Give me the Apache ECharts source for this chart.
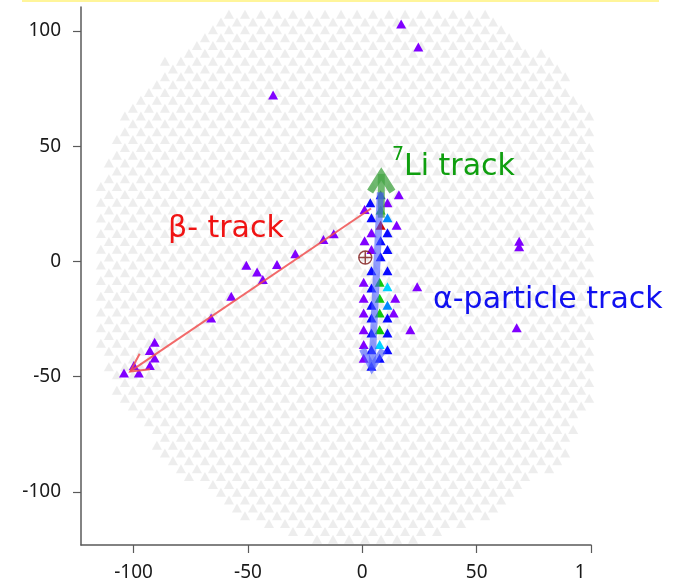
<!DOCTYPE html>
<html>
<head>
<meta charset="utf-8">
<script src="https://cdn.jsdelivr.net/npm/echarts@6.0.0/dist/echarts.min.js"></script>
<style>
html, body { margin: 0; padding: 0; background: #fff; }
#main { width: 685px; height: 588px; }
</style>
</head>
<body>
<div id="main"></div>
<script>
var dom = document.getElementById('main');
var myChart = echarts.init(dom, null, { renderer: 'canvas' });

// axis ticks
var xTicks = [-100, -50, 0, 50, 100];
var yTicks = [-100, -50, 0, 50, 100];

// detector outline: [y, x left, x right]
var outlineRows = [
    [108, -59, 60], [99, -67, 66], [94, -75, 74], [87, -87, 87], [82, -90, 89],
    [76, -94, 91], [70, -98, 93], [65, -104, 102], [40, -114, 102], [0, -117, 102],
    [-40, -114, 102], [-58, -107, 102], [-75, -94, 91], [-86, -87, 89], [-97, -71, 72],
    [-106, -59, 62], [-115, -44, 45], [-121, -19, 24]
];
// pad lattice: pitch in x, pitch in y, x of first pad in even / odd rows, y of row 0
var padPitch = [7, 3.4];
var padPhase = [1.2, 4.7];
var padRow0 = 22.3;

// hits, grouped by colour
var hitsPurple = [
    [17, 103], [24.5, 93], [-39, 72.2],
    [16, 29], [11, 25.5], [1, 22.5], [15, 15.7], [4, 12.5], [1, 9], [4, 5.2],
    [0.6, -9], [24, -11], [0.6, -16], [14.4, -16], [0.6, -22.3], [13.7, -22.3],
    [0.6, -29.6], [21, -29.6], [0.6, -36], [0.6, -42],
    [68.6, 8.8], [68.6, 6.4], [67.5, -28.8],
    [-12.5, 12], [-17, 9.5], [-29.3, 3.3], [-37.3, -1.3], [-50.7, -1.6], [-46, -4.6],
    [-43.5, -7.8], [-57.3, -15.1], [-66.1, -24.5], [-90.8, -35], [-92.9, -38.6],
    [-90.8, -41.9], [-99.9, -45.1], [-92.9, -45.1], [-104.2, -48.4], [-97.7, -48.4]
];
var hitsBlue = [
    [8, 29], [3.5, 25.5], [4, 19], [11, 12.5], [8, 9], [11, 5.2], [8, 2],
    [4, -4], [11, -4], [4, -11.5], [4, -19], [4, -24.5], [11, -24.5], [4, -31],
    [11, -31], [4, -38.3], [11, -38.3], [7.6, -42], [4, -45.5]
];
var hitsAzure = [[11, 19], [11, -19]];
var hitsCyan = [[11, -11], [7.6, -36]];
var hitsGreen = [[8, 22.3], [7.6, -9], [7.6, -16], [7.6, -22.3], [7.6, -29.6]];
var hitsRed = [[8, 15.7]];
var vertexPoint = [[1.3, 1.7]];

// tracks: start, end
var trackBeta = [[3.8, 23], [-101.5, -47.7]];
var trackLi = [[8.3, 19], [8.3, 38]];
var trackAlpha = [[7.9, 30], [4.2, -46]];

function rowSpan(y) {
    for (var i = 0; i < outlineRows.length - 1; i++) {
        var a = outlineRows[i], b = outlineRows[i + 1];
        if (y <= a[0] && y >= b[0]) {
            var t = (a[0] - y) / (a[0] - b[0]);
            return [a[1] + t * (b[1] - a[1]), a[2] + t * (b[2] - a[2])];
        }
    }
    return null;
}

var pads = [];
for (var k = -26; k <= 42; k++) {
    var y = padRow0 - k * padPitch[1];
    var span = rowSpan(y);
    if (!span) continue;
    var x0 = padPhase[Math.abs(k) % 2];
    for (var j = -20; j <= 20; j++) {
        var x = x0 + j * padPitch[0];
        if (x >= span[0] && x <= span[1]) pads.push([x, y]);
    }
}

var arrowStyles = [
    { color: 'rgba(240,80,80,0.85)', width: 2, head: 20, spread: 0.48 },
    { color: 'rgba(70,165,70,0.78)', width: 7, head: 21, spread: 0.56 },
    { color: 'rgba(70,90,255,0.6)', width: 7, head: 21, spread: 0.52 }
];
var arrowData = [trackBeta, trackLi, trackAlpha].map(function (t) {
    return [t[0][0], t[0][1], t[1][0], t[1][1]];
});

function hitSeries(name, data, color) {
    return {
        name: name,
        type: 'scatter',
        symbol: 'triangle',
        symbolSize: [10, 9],
        z: 3,
        silent: true,
        itemStyle: { color: color, opacity: 1 },
        data: data
    };
}

var axisCommon = {
    axisLine: { show: true, onZero: false, lineStyle: { color: '#5a5a5a', width: 1.5 } },
    splitLine: { show: false },
    axisTick: { show: true, length: 8, lineStyle: { color: '#5a5a5a', width: 1.2 } },
    axisLabel: { color: '#1a1a1a', fontSize: 19, fontFamily: 'Noto Sans' }
};

var option = {
    animation: false,
    backgroundColor: '#fff',
    grid: { left: 81, top: 7, right: 94, bottom: 43, outerBoundsMode: 'none' },
    xAxis: {
        type: 'value',
        min: -123,
        max: 100,
        axisLine: axisCommon.axisLine,
        splitLine: axisCommon.splitLine,
        axisTick: Object.assign({ customValues: xTicks }, axisCommon.axisTick),
        axisLabel: Object.assign({ customValues: xTicks, margin: 18 }, axisCommon.axisLabel)
    },
    yAxis: {
        type: 'value',
        min: -123,
        max: 110.4,
        axisLine: axisCommon.axisLine,
        splitLine: axisCommon.splitLine,
        axisTick: Object.assign({ customValues: yTicks }, axisCommon.axisTick),
        axisLabel: Object.assign({ customValues: yTicks, margin: 20 }, axisCommon.axisLabel)
    },
    series: [
        {
            name: 'pads',
            type: 'scatter',
            symbol: 'triangle',
            symbolSize: [10, 9],
            z: 1,
            silent: true,
            itemStyle: { color: '#e9e9e9' },
            data: pads
        },
        hitSeries('purple', hitsPurple, '#8000ff'),
        hitSeries('blue', hitsBlue, '#0a0aff'),
        hitSeries('azure', hitsAzure, '#0088ff'),
        hitSeries('cyan', hitsCyan, '#00d4ff'),
        hitSeries('green', hitsGreen, '#10c810'),
        hitSeries('red', hitsRed, '#d00000'),
        {
            name: 'tracks',
            type: 'custom',
            z: 5,
            silent: true,
            data: arrowData,
            renderItem: function (params, api) {
                var s = arrowStyles[params.dataIndex];
                var p1 = api.coord([api.value(0), api.value(1)]);
                var p2 = api.coord([api.value(2), api.value(3)]);
                var ang = Math.atan2(p2[1] - p1[1], p2[0] - p1[0]);
                var h1 = [p2[0] - s.head * Math.cos(ang - s.spread), p2[1] - s.head * Math.sin(ang - s.spread)];
                var h2 = [p2[0] - s.head * Math.cos(ang + s.spread), p2[1] - s.head * Math.sin(ang + s.spread)];
                return {
                    type: 'group',
                    children: [
                        { type: 'polyline', shape: { points: [p1, p2] },
                          style: { stroke: s.color, lineWidth: s.width, fill: null } },
                        { type: 'polyline', shape: { points: [h1, p2, h2] },
                          style: { stroke: s.color, lineWidth: s.width, fill: null, lineJoin: 'miter' } }
                    ]
                };
            }
        },
        {
            name: 'vertex',
            type: 'scatter',
            z: 6,
            silent: true,
            symbol: 'path://M0,10A10,10 0 1 1 20,10A10,10 0 1 1 0,10Z M10,0L10,20 M0,10L20,10',
            symbolSize: 13,
            itemStyle: { color: 'rgba(255,255,255,0)', borderColor: '#7a1414', borderWidth: 1.4 },
            data: vertexPoint
        }
    ],
    graphic: [
        { type: 'line', shape: { x1: 22, y1: 1, x2: 659, y2: 1 }, style: { stroke: '#fff59a', lineWidth: 2 }, z: 10 },
        { type: 'rect', shape: { x: 584, y: 553, width: 101, height: 35 }, style: { fill: '#fff' }, z: 10 },
        { type: 'text', left: 168, top: 214, z: 10,
          style: { text: 'β- track', fill: '#f01414', font: '30px "DejaVu Sans"' } },
        { type: 'text', left: 392, top: 146, z: 10,
          style: { text: '7', fill: '#0f9f0f', font: '19px "DejaVu Sans"' } },
        { type: 'text', left: 404, top: 152, z: 10,
          style: { text: 'Li track', fill: '#0f9f0f', font: '30px "DejaVu Sans"' } },
        { type: 'text', left: 433, top: 285, z: 10,
          style: { text: 'α-particle track', fill: '#1010f0', font: '30px "DejaVu Sans"' } }
    ]
};

myChart.setOption(option);
window.addEventListener('resize', myChart.resize);
</script>
</body>
</html>
